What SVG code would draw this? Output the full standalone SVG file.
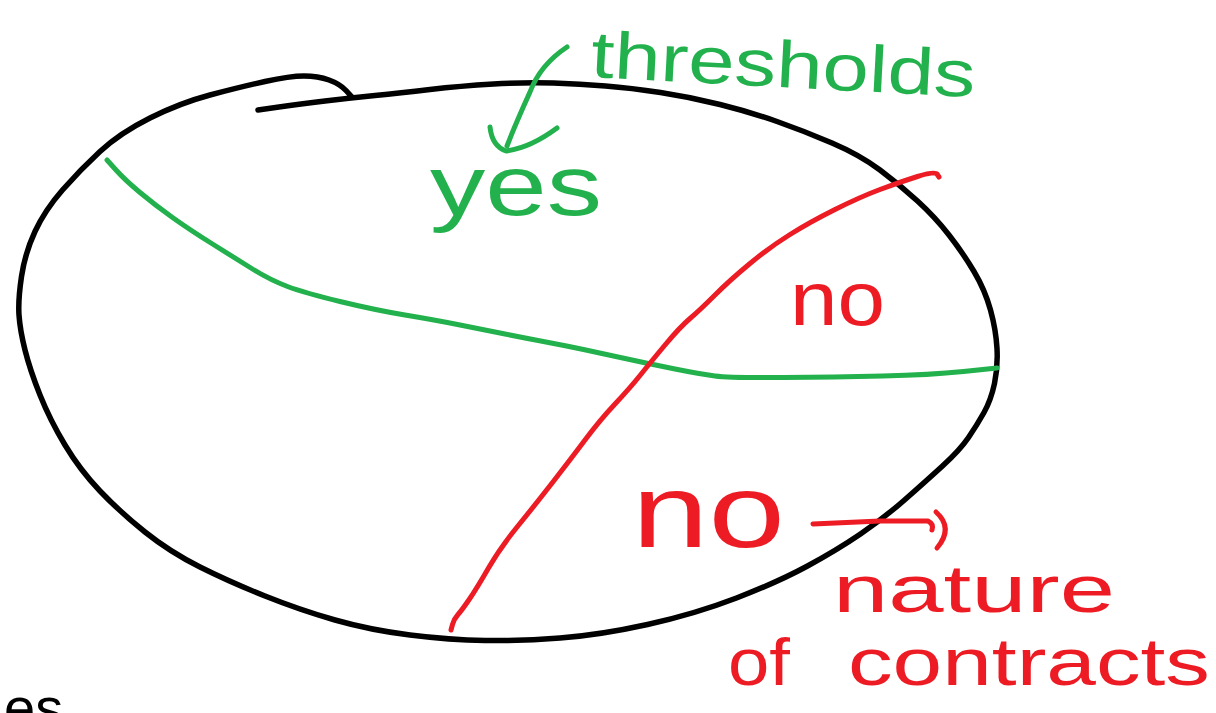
<svg xmlns="http://www.w3.org/2000/svg" width="1216" height="713" viewBox="0 0 1216 713">
<style>
.ink{fill:none;stroke-width:5;stroke-linecap:round;stroke-linejoin:round}
.k{stroke:#000;stroke-width:5.5}
.g{stroke:#22B14C}
.r{stroke:#ED1C24}
.hand{font-family:"Liberation Sans","DejaVu Sans",sans-serif}
.tg{fill:#22B14C}
.tr{fill:#ED1C24}
</style>
<rect width="1216" height="713" fill="#fff"/>
<g id="outline">
<path class="ink k" d="M258,110 L279,107 Q300,104 325,101 Q350,98 375,95.5 Q400,93 430,89.5 Q460,86 493.5,84 Q527,82 553.5,83 Q580,84 605.5,86 Q631,88 660.5,92.5 Q690,97 720,104.5 Q750,112 777,121.5 Q804,131 832,143 Q860,155 880,170 Q900,185 917.5,201 Q935,217 949,235 Q963,253 974,271.5 Q985,290 990.5,310 Q996,330 997,348.5 Q998,367 994.5,383.5 Q991,400 984,412.5 Q977,425 968.5,437.5 Q960,450 942.5,466 Q925,482 904.5,500 Q884,518 860.5,534 Q837,550 807.5,566 Q778,582 736.5,598 Q695,614 647.5,624.5 Q600,635 560,638 Q520,641 485,640.5 Q450,640 410,635 Q370,630 335,620 Q300,610 265,596 Q230,582 200,567 Q170,552 145,532 Q120,512 100,491 Q80,470 65,445 Q50,420 40,395 Q30,370 25,350 Q20,330 19,315 Q18,300 21.5,276.5 Q25,253 35,231.5 Q45,210 62.5,190 Q80,170 100,151.5 Q120,133 150,118 Q180,103 210,95 Q240,87 265,81.5 Q290,76 304,76 Q318,76 329,80 Q340,84 346,90.5 L352,97"/>
</g>
<g id="connectors">
<path id="green-divider" class="ink g" d="M107,160 L116,170 Q125,180 140,192.5 Q155,205 172.5,217.5 Q190,230 212.5,244 Q235,258 252.5,269 Q270,280 287.5,286.5 Q305,293 340,301.5 Q375,310 405,315 Q435,320 457.5,324.5 Q480,329 505,334 Q530,339 548.5,342.5 Q567,346 583.5,349.5 Q600,353 625,358.5 Q650,364 675,369 Q700,374 715,376 Q730,378 782.5,377.5 Q835,377 882.5,376 Q930,375 963.5,371.5 L997,368"/>
<path id="red-divider" class="ink r" d="M451,630 L452.5,624.5 Q454,619 458,614.5 Q462,610 469.5,599 Q477,588 488.5,568 Q500,548 517.5,526.5 Q535,505 552.5,482.5 Q570,460 585,440 Q600,420 615,404 Q630,388 640,375.5 Q650,363 665,345 Q680,327 690,318.5 Q700,310 715,295 Q730,280 750,263.5 Q770,247 790,234.5 Q810,222 835,209.5 Q860,197 880,189.5 Q900,182 917.5,176.5 Q935,171 937,174 L939,177"/>
<path id="thresholds-arrow" class="ink g" d="M567,47 Q540,65 530,92 Q515,125 507,146"/>
<path id="thresholds-arrowhead" class="ink g" d="M490,127 Q492,146 506,151 Q530,148 557,128"/>
<path id="contracts-arrow" class="ink r" d="M813,524 L880,521 L928,521 Q934,524 932,530"/>
<path id="contracts-arrow-hook" class="ink r" d="M936,512 Q954,528 937,548"/>
</g>
<g id="label-thresholds"><text class="hand tg" x="590" y="77" font-size="66" textLength="385" lengthAdjust="spacingAndGlyphs" transform="rotate(3 590 77)">thresholds</text></g>
<g id="label-yes"><text class="hand tg" x="430" y="215" font-size="86" textLength="172" lengthAdjust="spacingAndGlyphs">yes</text></g>
<g id="label-no-upper"><text class="hand tr" x="790" y="325" font-size="76" textLength="95" lengthAdjust="spacingAndGlyphs">no</text></g>
<g id="label-no-lower"><text class="hand tr" x="632" y="547" font-size="104" textLength="153" lengthAdjust="spacingAndGlyphs">no</text></g>
<g id="label-nature"><text class="hand tr" x="833" y="612" font-size="66" textLength="282" lengthAdjust="spacingAndGlyphs">nature</text></g>
<g id="label-of-contracts">
<text class="hand tr" x="728" y="685" font-size="66" textLength="62" lengthAdjust="spacingAndGlyphs">of</text>
<text class="hand tr" x="848" y="685" font-size="66" textLength="362" lengthAdjust="spacingAndGlyphs">contracts</text>
</g>
<g id="label-es"><text x="4" y="727" font-family="Liberation Sans, Arial, sans-serif" font-size="56" fill="#000">es</text></g>
</svg>
